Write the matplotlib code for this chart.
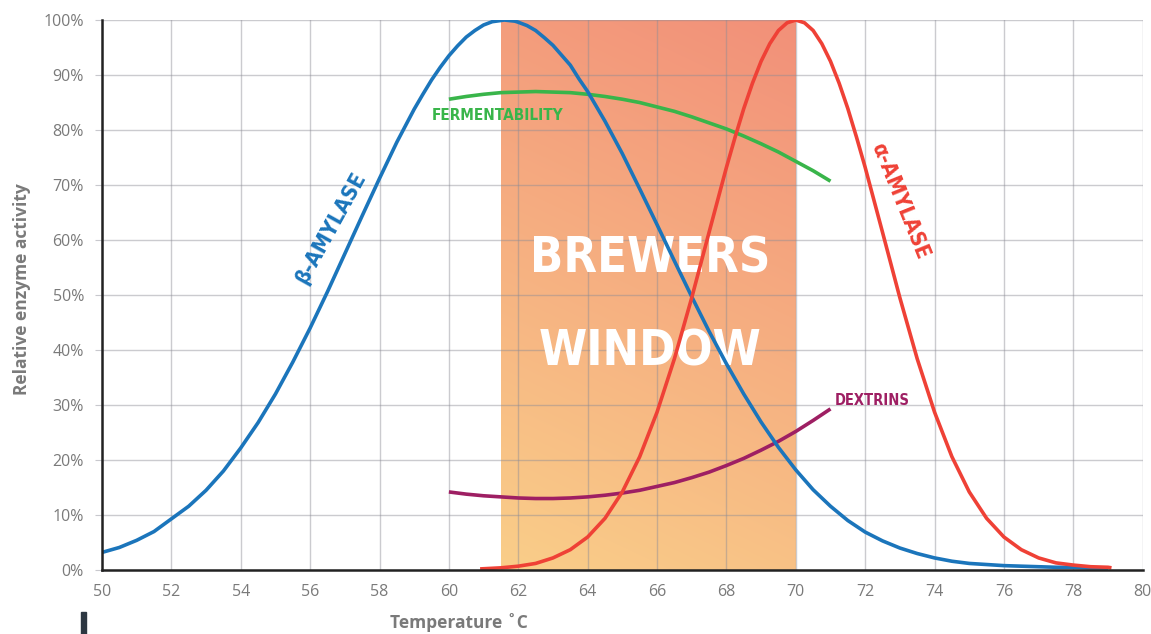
import numpy as np
import matplotlib
matplotlib.use("Agg")
import matplotlib.pyplot as plt
from matplotlib import font_manager as fm
from matplotlib.patches import Rectangle

# ── Data ───────────────────────────────────────────────────
beta_x = [50, 50.5, 51, 51.5, 52, 52.5, 53, 53.5, 54, 54.5, 55, 55.5, 56, 56.5,
          57, 57.5, 58, 58.5, 59, 59.25, 59.5, 59.75, 60, 60.25, 60.5, 60.75,
          61, 61.25, 61.6, 61.9, 62, 62.25, 62.5, 62.75, 63, 63.25, 63.5, 63.75,
          64, 64.5, 65, 65.5, 66, 66.5, 67, 67.5, 68, 68.5, 69, 69.5, 70, 70.5,
          71, 71.5, 72, 72.5, 73, 73.5, 74, 74.5, 75, 75.5, 76, 76.5, 77, 77.5,
          78, 78.5, 79]
beta_y = [3.2, 4.1, 5.4, 7.0, 9.3, 11.6, 14.5, 18.0, 22.2, 26.8, 32.0, 37.8,
          44.0, 50.6, 57.5, 64.4, 71.2, 77.8, 83.8, 86.5, 89.1, 91.4, 93.5, 95.3,
          96.9, 98.1, 99.1, 99.7, 100, 99.8, 99.6, 99.0, 98.1, 96.8, 95.4, 93.6,
          91.8, 89.3, 87.0, 81.6, 75.7, 69.3, 62.8, 56.2, 49.7, 43.4, 37.5, 32.0,
          26.9, 22.3, 18.2, 14.6, 11.6, 9.0, 6.9, 5.3, 4.0, 3.0, 2.2, 1.6, 1.2,
          1.0, 0.8, 0.7, 0.6, 0.5, 0.5, 0.4, 0.4]

alpha_x = [60.9, 61.5, 62, 62.5, 63, 63.5, 64, 64.5, 65, 65.5, 66, 66.5, 67,
           67.5, 68, 68.25, 68.5, 68.75, 69, 69.25, 69.5, 69.75, 70, 70.25, 70.5,
           70.75, 71, 71.25, 71.5, 71.75, 72, 72.5, 73, 73.5, 74, 74.5, 75, 75.5,
           76, 76.5, 77, 77.5, 78, 78.5, 79, 79.1]
alpha_y = [0.2, 0.4, 0.7, 1.2, 2.2, 3.7, 6.0, 9.4, 14.2, 20.6, 28.7, 38.4, 49.5,
           61.4, 73.2, 78.7, 83.9, 88.5, 92.5, 95.7, 98.1, 99.5, 100, 99.5, 98.1,
           95.7, 92.5, 88.5, 83.9, 78.7, 73.2, 61.4, 49.5, 38.4, 28.7, 20.6, 14.2,
           9.4, 6.0, 3.7, 2.2, 1.3, 0.9, 0.6, 0.5, 0.4]

ferm_x = [60, 60.5, 61, 61.5, 62, 62.5, 63, 63.5, 64, 64.5, 65, 65.5, 66, 66.5,
          67, 67.5, 68, 68.5, 69, 69.5, 70, 70.5, 71]
ferm_y = [85.6, 86.1, 86.5, 86.8, 86.9, 87.0, 86.9, 86.8, 86.5, 86.1, 85.6, 85.0,
          84.2, 83.4, 82.4, 81.3, 80.2, 78.9, 77.5, 76.0, 74.3, 72.6, 70.7]

dext_x = ferm_x
dext_y = [14.2, 13.8, 13.5, 13.3, 13.1, 13.0, 13.0, 13.1, 13.3, 13.6, 14.0, 14.5,
          15.2, 15.9, 16.8, 17.8, 19.0, 20.3, 21.8, 23.4, 25.2, 27.2, 29.3]

window = (61.5, 70.0)
x_ticks = list(range(50, 81, 2))
y_ticks = list(range(0, 101, 10))

# ── Colours ────────────────────────────────────────────────
C_BLUE = "#1B75BB"
C_RED = "#EF4136"
C_GREEN = "#39B54A"
C_PURPLE = "#9E1F63"
C_TICK = "#7A7A7A"
C_GRID = "#8C8C96"


def narrow_bold():
    """Pick the narrowest bold font installed (for the poster-style labels)."""
    order = {"ultra-condensed": 0, "extra-condensed": 1, "condensed": 2,
             "semi-condensed": 3}
    best, best_key = None, None
    for f in fm.fontManager.ttflist:
        st = f.stretch if isinstance(f.stretch, str) else "normal"
        nm = f.name.lower()
        if st not in order and "narrow" not in nm and "condensed" not in nm:
            continue
        w = f.weight if isinstance(f.weight, int) else fm.weight_dict.get(f.weight, 400)
        if w < 600 or f.style != "normal":
            continue
        key = (order.get(st, 2), abs(w - 700))
        if best_key is None or key < best_key:
            best, best_key = f.fname, key
    if best:
        return lambda size: fm.FontProperties(fname=best, size=size)
    return lambda size: fm.FontProperties(family="DejaVu Sans", weight="bold",
                                          stretch="condensed", size=size)


NARROW = narrow_bold()

fig = plt.figure(figsize=(11.51, 6.34), dpi=100)
ax = fig.add_axes([0.0886, 0.1009, 0.9042, 0.8675])

# Brewers window gradient (light orange at bottom -> salmon top right)
c_bot = np.array([0.980, 0.808, 0.537])
c_top = np.array([0.949, 0.565, 0.475])
v = np.linspace(0, 1, 200)[:, None]
u = np.linspace(0, 1, 60)[None, :]
t = np.clip(0.8 * v + 0.2 * u, 0, 1)[..., None]
grad = c_bot * (1 - t) + c_top * t
ax.imshow(grad, extent=[window[0], window[1], 0, 100], origin="lower",
          aspect="auto", zorder=0, interpolation="bilinear")

ax.text(65.8, 56.6, "BREWERS", ha="center", va="center", color="white",
        fontproperties=NARROW(35), zorder=2)
ax.text(65.8, 39.8, "WINDOW", ha="center", va="center", color="white",
        fontproperties=NARROW(35), zorder=2)

lw = 2.6
ax.plot(ferm_x, ferm_y, color=C_GREEN, lw=lw, solid_capstyle="butt", zorder=3)
ax.plot(dext_x, dext_y, color=C_PURPLE, lw=lw, solid_capstyle="butt", zorder=3)
ax.plot(beta_x, beta_y, color=C_BLUE, lw=lw, solid_capstyle="butt",
        solid_joinstyle="round", zorder=4)
ax.plot(alpha_x, alpha_y, color=C_RED, lw=lw, solid_capstyle="butt",
        solid_joinstyle="round", zorder=4)

# Curve labels
ax.text(56.6, 62.2, "β-AMYLASE", rotation=61, ha="center", va="center",
        color=C_BLUE, fontproperties=NARROW(15.5))
ax.text(73.0, 67.1, "α-AMYLASE", rotation=-68, ha="center", va="center",
        color=C_RED, fontproperties=NARROW(15.5))
ax.text(59.5, 82.7, "FERMENTABILITY", ha="left", va="center",
        color=C_GREEN, fontproperties=NARROW(11))
ax.text(71.13, 30.9, "DEXTRINS", ha="left", va="center",
        color=C_PURPLE, fontproperties=NARROW(10.5))

# Axes styling
ax.set_xlim(50, 80)
ax.set_ylim(0, 100)
ax.set_xticks(x_ticks)
ax.set_yticks(y_ticks)
ax.set_yticklabels([f"{y}%" for y in y_ticks])
ax.grid(True, color=C_GRID, alpha=0.45, lw=1.0, zorder=1)
for s in ("top", "right"):
    ax.spines[s].set_visible(False)
for s in ("left", "bottom"):
    ax.spines[s].set_color("#222222")
    ax.spines[s].set_linewidth(1.8)
    ax.spines[s].set_zorder(5)
ax.tick_params(axis="y", length=5, color="#C8C8CD", pad=8,
               labelsize=11.5, labelcolor=C_TICK)
ax.tick_params(axis="x", length=0, pad=10, labelsize=11.5, labelcolor=C_TICK)
for lab in ax.get_xticklabels() + ax.get_yticklabels():
    lab.set_family("Open Sans")

fig.text(22 / 1151, 1 - 289 / 634, "Relative enzyme activity", rotation=90,
         ha="center", va="center", fontsize=12.5, fontweight="bold",
         color=C_TICK, family="Open Sans")
fig.text(459 / 1151, 1 - 623 / 634, "Temperature ˚C", ha="center", va="center",
         fontsize=12.5, fontweight="bold", color=C_TICK, family="Open Sans")

# small dark marker bottom-left
fig.patches.append(Rectangle((81 / 1151, 0), 5 / 1151, 22 / 634,
                             transform=fig.transFigure, color="#2D3742"))

fig.savefig("out.png", dpi=100, facecolor="white")
